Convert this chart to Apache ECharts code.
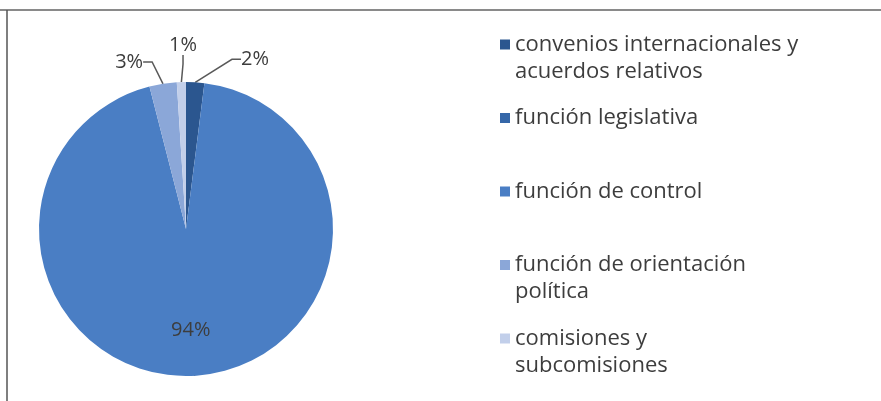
<!DOCTYPE html>
<html>
<head>
<meta charset="utf-8">
<script src="https://cdn.jsdelivr.net/npm/echarts@6/dist/echarts.min.js"></script>
<style>
  html, body { margin: 0; padding: 0; background: #ffffff; }
  #chart { width: 881px; height: 401px; }
</style>
</head>
<body>
<div id="chart"></div>
<script>
// Share of activity by type (percent)
const categories = [
  'convenios internacionales y\nacuerdos relativos',
  'función legislativa',
  'función de control',
  'función de orientación\npolítica',
  'comisiones y\nsubcomisiones'
];
const shares = [2, 0, 94, 3, 1];
const colors = ['#2b568f', '#3567a8', '#4a7ec4', '#8ba7d8', '#c2cfea'];

const FONT = '"Open Sans", sans-serif';
const TEXT = '#3d3d3d';

// Legend entries are padded to three lines with the first text line in the middle,
// so the swatch sits beside the first line of every entry.
function legendText(name) {
  const lines = name.split('\n');
  return ' \n' + lines[0] + '\n' + (lines[1] || ' ');
}

// nudges (relative to the default outside position) for the small slice labels;
// setting x/y lets ECharts re-route the leader line to the moved label
const labelShift = {
  0: { dx: 31, dy: -11 },
  2: { dx: 0, dy: 25 },
  3: { dx: -4, dy: -10 },
  4: { dx: 30, dy: -25 }
};

const chart = echarts.init(document.getElementById('chart'), null, { renderer: 'canvas' });

chart.setOption({
  animation: false,
  backgroundColor: '#ffffff',
  color: colors,
  graphic: [
    { type: 'line', shape: { x1: 0, y1: 10, x2: 881, y2: 10 }, style: { stroke: '#8a8a8a', lineWidth: 2 } },
    { type: 'line', shape: { x1: 7, y1: 10, x2: 7, y2: 401 }, style: { stroke: '#555555', lineWidth: 1.5 } }
  ],
  legend: {
    orient: 'vertical',
    left: 500,
    top: 4,
    padding: 0,
    itemWidth: 10,
    itemHeight: 10,
    itemGap: -7.5,
    icon: 'rect',
    selectedMode: false,
    formatter: legendText,
    textStyle: {
      fontFamily: FONT,
      fontSize: 22,
      color: TEXT,
      lineHeight: 27
    },
    data: categories
  },
  series: [{
    type: 'pie',
    center: [186, 229],
    radius: 147,
    startAngle: 90,
    clockwise: true,
    avoidLabelOverlap: false,
    label: {
      show: true,
      position: 'outside',
      formatter: '{c}%',
      fontFamily: FONT,
      fontSize: 20,
      color: TEXT
    },
    labelLine: {
      show: true,
      length: 12,
      length2: 9,
      minTurnAngle: 20,
      lineStyle: { color: '#595959', width: 1.5 }
    },
    labelLayout: function (p) {
      const s = labelShift[p.dataIndex];
      if (!s) return {};
      const r = p.labelRect;
      return {
        x: r.x + r.width / 2 + s.dx,
        y: r.y + r.height / 2 + s.dy,
        align: 'center',
        verticalAlign: 'middle'
      };
    },
    emphasis: { disabled: true },
    data: categories.map(function (name, i) {
      const item = { name: name, value: shares[i] };
      if (shares[i] === 0) {
        item.label = { show: false };
        item.labelLine = { show: false };
      }
      if (i === 2) {
        item.label = { position: 'inside' };
      }
      return item;
    })
  }]
});
</script>
</body>
</html>
